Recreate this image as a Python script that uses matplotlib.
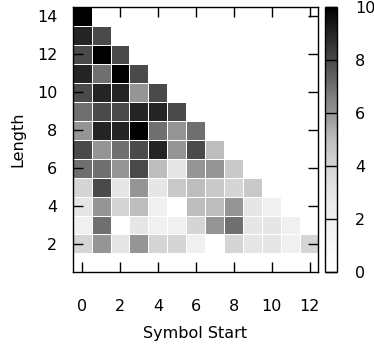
import numpy as np
import matplotlib
matplotlib.use("Agg")
import matplotlib.pyplot as plt
from matplotlib.colors import LinearSegmentedColormap

# counts per (length, symbol start); row i -> length lengths[i], values start at symbol 0
lengths = [14, 13, 12, 11, 10, 9, 8, 7, 6, 5, 4, 3, 2]
row_values = [
    [10],
    [9, 8],
    [8, 10, 8],
    [9, 7, 10, 8],
    [8, 9, 9, 6, 8],
    [7, 8, 8, 9, 9, 8],
    [6, 9, 9, 10, 7, 6, 7],
    [8, 6, 7, 8, 9, 6, 8, 5],
    [7, 7, 6, 8, 5, 3, 6, 6, 4.5],
    [4, 8, 3, 6, 3, 4.5, 5, 4.5, 4, 4.5],
    [3, 6, 4, 5, 2, 0, 5, 5, 6, 3, 2],
    [2, 7, 0, 3, 2, 2, 4, 6, 7, 3, 3, 2],
    [4, 6, 3, 6, 4, 4, 2, 0, 4, 3, 3, 2, 4],
]
starts = np.arange(13)
x_ticks = [0, 2, 4, 6, 8, 10, 12]
y_ticks = [2, 4, 6, 8, 10, 12, 14]
cb_ticks = [0, 2, 4, 6, 8, 10]

# build grid (length rows 2..14, start cols 0..12)
grid = np.full((13, 13), np.nan)
for L, vals in zip(lengths, row_values):
    grid[L - 2, :len(vals)] = vals
grid = np.ma.masked_invalid(grid)

# gnuplot-ish gray palette, brighter at the low end
anchors = [(0.0, 1.0), (0.2, 0.94), (0.3, 0.90), (0.4, 0.835), (0.5, 0.745),
           (0.6, 0.585), (0.7, 0.44), (0.8, 0.29), (0.9, 0.145), (1.0, 0.0)]
cmap = LinearSegmentedColormap.from_list(
    "grayish", [(p, (g, g, g)) for p, g in anchors])

fs = 11.5
fig = plt.figure(figsize=(3.74, 3.51), dpi=100)
ax = fig.add_axes([0.194, 0.224, 0.657, 0.756])
cax = fig.add_axes([0.869, 0.224, 0.032, 0.756])

xe = np.arange(-0.5, 13.0, 1.0)
ye = np.arange(1.5, 15.0, 1.0)
mesh = ax.pcolormesh(xe, ye, grid, cmap=cmap, vmin=0, vmax=10,
                     edgecolors="white", linewidth=0.7)

ax.set_xlim(-0.5, 12.45)
ax.set_ylim(0.5, 14.5)
ax.set_xticks(x_ticks)
ax.set_yticks(y_ticks)
ax.tick_params(direction="in", length=7.5, width=1, top=True, right=True,
               labelsize=fs)
ax.tick_params(axis="x", pad=19)
ax.tick_params(axis="y", pad=11)
for sp in ax.spines.values():
    sp.set_linewidth(1)
ax.set_xlabel("Symbol Start", fontsize=fs, labelpad=9)
ax.set_ylabel("Length", fontsize=fs, labelpad=8)

cb = fig.colorbar(mesh, cax=cax, ticks=cb_ticks)
cb.outline.set_linewidth(1)
cax.tick_params(direction="in", length=8.6, width=1, labelsize=fs, pad=13)

fig.savefig("out.png", dpi=100)
